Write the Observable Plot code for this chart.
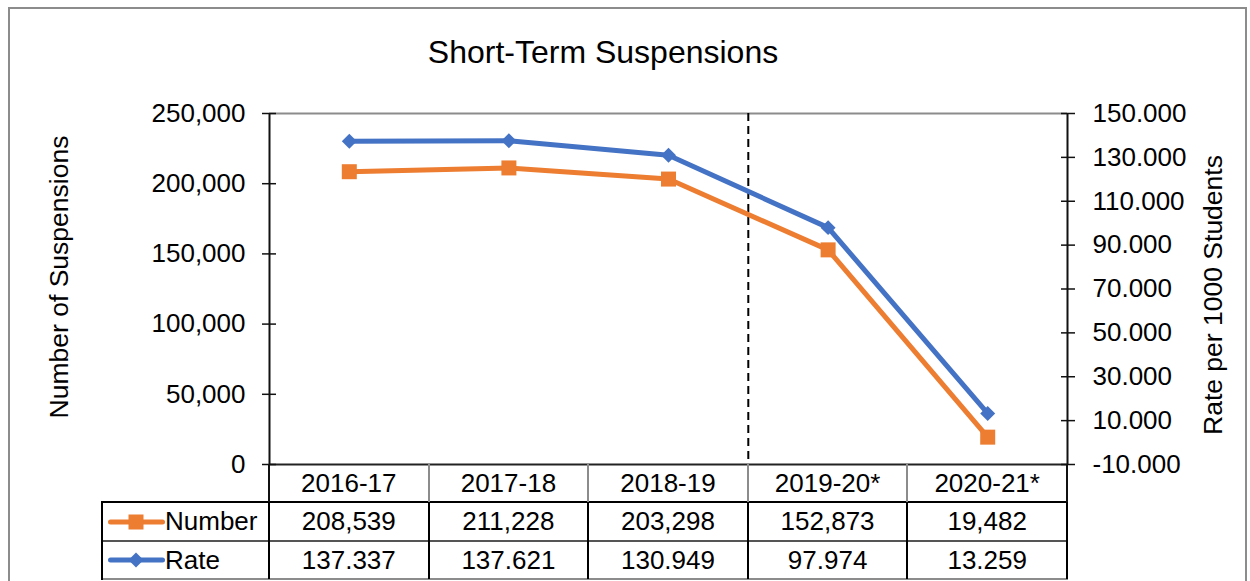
<!DOCTYPE html>
<html><head><meta charset="utf-8">
<script src="https://cdn.jsdelivr.net/npm/d3@7"></script>
<script src="https://cdn.jsdelivr.net/npm/@observablehq/plot@0.6"></script>
<style>
body{margin:0;background:#fff;font-family:'Liberation Sans',Arial,sans-serif;}
#wrap{position:relative;width:1250px;height:581px;overflow:hidden;background:#fff;}
.abs{position:absolute;}
.cell{position:absolute;display:flex;align-items:center;justify-content:center;font-size:26px;color:#000;white-space:nowrap;}
.hl,.vl{position:absolute;}
</style></head><body><div id="wrap"></div>
<script>
// ---- data ----
const years = ["2016-17", "2017-18", "2018-19", "2019-20*", "2020-21*"];
const numbers = [208539, 211228, 203298, 152873, 19482];
const rates = [137.337, 137.621, 130.949, 97.974, 13.259];
const numberTicks = [0, 50000, 100000, 150000, 200000, 250000];
const rateTicks = [-10, 10, 30, 50, 70, 90, 110, 130, 150];
const numberDomain = [0, 250000];
const rateDomain = [-10, 150];
const dividerAfter = "2018-19";
const titleText = "Short-Term Suspensions";
const leftTitle = "Number of Suspensions";
const rightTitle = "Rate per 1000 Students";
const seriesNames = ["Number", "Rate"];
const seriesColors = ["#ED7D31", "#4472C4"];
const numberLabels = numbers.map(v => v.toLocaleString("en-US"));
const rateLabels = rates.map(v => v.toFixed(3));

// ---- helpers ----
const rateToNum = r => numberDomain[0] + (r - rateDomain[0]) / (rateDomain[1] - rateDomain[0]) * (numberDomain[1] - numberDomain[0]);
const numToRate = v => rateDomain[0] + (v - numberDomain[0]) / (numberDomain[1] - numberDomain[0]) * (rateDomain[1] - rateDomain[0]);
const rows = years.map((year, i) => ({i, year, number: numbers[i], rateY: rateToNum(rates[i])}));
const FONT = "'Liberation Sans', Arial, sans-serif";
const wrap = document.getElementById("wrap");

const chart = Plot.plot({
  width: 1250, height: 581,
  marginLeft: 269, marginRight: 183, marginTop: 113, marginBottom: 117,
  style: {fontFamily: FONT, fontSize: "26px", background: "transparent", color: "#000", overflow: "visible"},
  x: {type: "linear", domain: [-0.5, years.length - 0.5], axis: null},
  y: {domain: numberDomain},
  marks: [
    Plot.ruleY([numberDomain[1]], {stroke: "#8c8c8c", strokeWidth: 2}),
    Plot.ruleX([years.indexOf(dividerAfter) + 0.5], {stroke: "#000", strokeWidth: 2, strokeDasharray: "8,5"}),
    Plot.ruleY([numberDomain[0]], {stroke: "#222", strokeWidth: 2}),
    Plot.ruleX([-0.5, years.length - 0.5], {stroke: "#111", strokeWidth: 2}),
    Plot.axisY({anchor: "left", ticks: numberTicks, tickSize: 14, dx: 7, fill: "none", stroke: "#111", strokeWidth: 1.5, label: null}),
    Plot.axisY({anchor: "left", ticks: numberTicks, tickSize: 0, tickPadding: 24, tickFormat: d => d.toLocaleString("en-US"), fontSize: 26, label: null}),
    Plot.axisY({anchor: "right", ticks: rateTicks.map(rateToNum), tickSize: 14, dx: -7, fill: "none", stroke: "#111", strokeWidth: 1.5, label: null}),
    Plot.axisY({anchor: "right", ticks: rateTicks.map(rateToNum), tickSize: 0, tickPadding: 25, tickFormat: d => numToRate(d).toFixed(3), fontSize: 26, label: null}),
    Plot.line(rows, {x: "i", y: "number", stroke: seriesColors[0], strokeWidth: 5}),
    Plot.dot(rows, {x: "i", y: "number", symbol: "square", r: 8.46, fill: seriesColors[0], stroke: "none"}),
    Plot.line(rows, {x: "i", y: "rateY", stroke: seriesColors[1], strokeWidth: 5}),
    Plot.dot(rows, {x: "i", y: "rateY", symbol: "diamond2", r: 6.75, fill: seriesColors[1], stroke: "none"})
  ]
});
chart.style.position = "absolute";
chart.style.left = "0px";
chart.style.top = "0px";

// outer border
const border = document.createElement("div");
border.className = "abs";
Object.assign(border.style, {left: "8px", top: "7px", width: "1239px", height: "640px", border: "2px solid #8c8c8c", boxSizing: "border-box"});
wrap.appendChild(border);
wrap.appendChild(chart);

function addDiv(cls, styles, text) {
  const d = document.createElement("div");
  d.className = cls;
  Object.assign(d.style, styles);
  if (text != null) d.textContent = text;
  wrap.appendChild(d);
  return d;
}

// titles
addDiv("abs", {left: "303px", width: "600px", top: "36px", textAlign: "center", fontSize: "32px", lineHeight: "32px", color: "#000"}, titleText);
addDiv("abs", {left: (59 - 250) + "px", top: (277 - 13) + "px", width: "500px", height: "26px", lineHeight: "26px", fontSize: "26.5px", textAlign: "center", transform: "rotate(-90deg)", color: "#000"}, leftTitle);
addDiv("abs", {left: (1213 - 250) + "px", top: (295 - 13) + "px", width: "500px", height: "26px", lineHeight: "26px", fontSize: "26.5px", textAlign: "center", transform: "rotate(-90deg)", color: "#000"}, rightTitle);

// data table under the chart, positioned with the chart's x scale
const xs = chart.scale("x");
const edge = k => xs.apply(k - 0.5);
const tableLeft = 102;
const rowTops = [464, 502, 541, 579];
const xLeft = edge(0), xRight = edge(years.length);

// header row
years.forEach((y, i) => {
  addDiv("cell", {left: edge(i) + "px", width: (edge(i + 1) - edge(i)) + "px", top: rowTops[0] + "px", height: (rowTops[1] - rowTops[0]) + "px"}, y);
});
const valueRows = [numberLabels, rateLabels];
valueRows.forEach((vals, r) => {
  vals.forEach((v, i) => {
    addDiv("cell", {left: edge(i) + "px", width: (edge(i + 1) - edge(i)) + "px", top: rowTops[r + 1] + "px", height: (rowTops[r + 2] - rowTops[r + 1]) + "px"}, v);
  });
  // legend cell
  const lc = addDiv("cell", {left: tableLeft + "px", width: (xLeft - tableLeft) + "px", top: rowTops[r + 1] + "px", height: (rowTops[r + 2] - rowTops[r + 1]) + "px", justifyContent: "flex-start"});
  const sym = r === 0 ? d3.symbol(d3.symbolSquare, 225)() : d3.symbol(d3.symbolDiamond2, 143)();
  lc.innerHTML = `<svg width="63" height="24" style="flex:none"><line x1="8.5" x2="60.5" y1="12" y2="12" stroke="${seriesColors[r]}" stroke-width="5" stroke-linecap="round"/><path d="${sym}" transform="translate(34,12)" fill="${seriesColors[r]}"/></svg><span>${seriesNames[r]}</span>`;
});

// table lines
addDiv("hl", {left: tableLeft + "px", width: (xRight - tableLeft + 1) + "px", top: (rowTops[1] - 1) + "px", height: "2px", background: "#000"});
addDiv("hl", {left: tableLeft + "px", width: (xRight - tableLeft + 1) + "px", top: (rowTops[2] - 1) + "px", height: "2px", background: "#555"});
addDiv("hl", {left: tableLeft + "px", width: (xRight - tableLeft + 1) + "px", top: (rowTops[3] - 1) + "px", height: "2px", background: "#8c8c8c"});
addDiv("vl", {left: (tableLeft - 1) + "px", top: (rowTops[1] - 1) + "px", width: "2px", height: (rowTops[3] - rowTops[1] + 2) + "px", background: "#000"});
for (let k = 0; k <= years.length; k++) {
  const x = edge(k);
  const inner = k > 0 && k < years.length;
  addDiv("vl", {left: (x - 1) + "px", top: rowTops[0] + "px", width: "2px", height: (rowTops[1] - rowTops[0]) + "px", background: inner ? "#8c8c8c" : "#111"});
  addDiv("vl", {left: (x - 1) + "px", top: rowTops[1] + "px", width: "2px", height: (rowTops[3] - rowTops[1]) + "px", background: "#000"});
}
</script></body></html>
